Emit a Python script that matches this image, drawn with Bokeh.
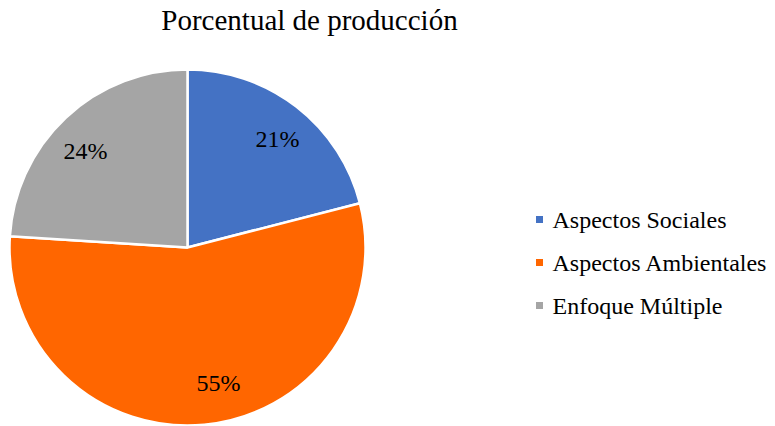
import math
from bokeh.plotting import figure
from bokeh.models import Range1d, ColumnDataSource
from bokeh.core.properties import value
from bokeh.embed import file_html
from bokeh.resources import INLINE

title_text = "Porcentual de producción"
categories = ["Aspectos Sociales", "Aspectos Ambientales", "Enfoque Múltiple"]
percents = [21, 55, 24]
colors = ["#4472C4", "#FF6600", "#A5A5A5"]

W, H = 775, 426
p = figure(width=W, height=H, output_backend="svg", toolbar_location=None,
           x_range=Range1d(0, W), y_range=Range1d(0, H), min_border=0,
           outline_line_color=None)
p.axis.visible = False
p.grid.visible = False

def fy(page_y):
    return H - page_y

def fx(page_x):
    return page_x

cx, cy, r = fx(187), fy(247), 178
total = sum(percents)
starts, ends, lx, ly, labels = [], [], [], [], []
cum = 0.0
for v in percents:
    a0 = math.pi / 2 - 2 * math.pi * cum / total
    cum += v
    a1 = math.pi / 2 - 2 * math.pi * cum / total
    starts.append(a0)
    ends.append(a1)
    labels.append(f"{v}%")

# label positions (page pixels)
lx = [fx(277), fx(218), fx(85)]
ly = [fy(138), fy(382), fy(150)]

src = ColumnDataSource(dict(start=starts, end=ends, color=colors))
p.wedge(x=cx, y=cy, radius=r, start_angle="start", end_angle="end",
        direction="clock", fill_color="color", line_color="white",
        line_width=2.5, source=src)

p.text(x=lx, y=ly, text=labels, text_font=value("Liberation Serif"),
       text_font_size="24px", text_color="black", text_align="center",
       text_baseline="middle")

# title
p.text(x=[fx(309)], y=[fy(19)], text=[title_text], text_font=value("Liberation Serif"),
       text_font_size="29px", text_color="black", text_align="center",
       text_baseline="middle")

# legend
leg_y = [fy(219 + 43 * i) for i in range(len(categories))]
p.scatter(x=[fx(539)] * 3, y=leg_y, marker="square", size=7,
          fill_color=colors, line_color=None)
p.text(x=[fx(552)] * 3, y=leg_y, text=categories, text_font=value("Liberation Serif"),
       text_font_size="24px", text_color="black", text_align="left",
       text_baseline="middle")

open("out.html", "w").write(file_html(p, INLINE))
